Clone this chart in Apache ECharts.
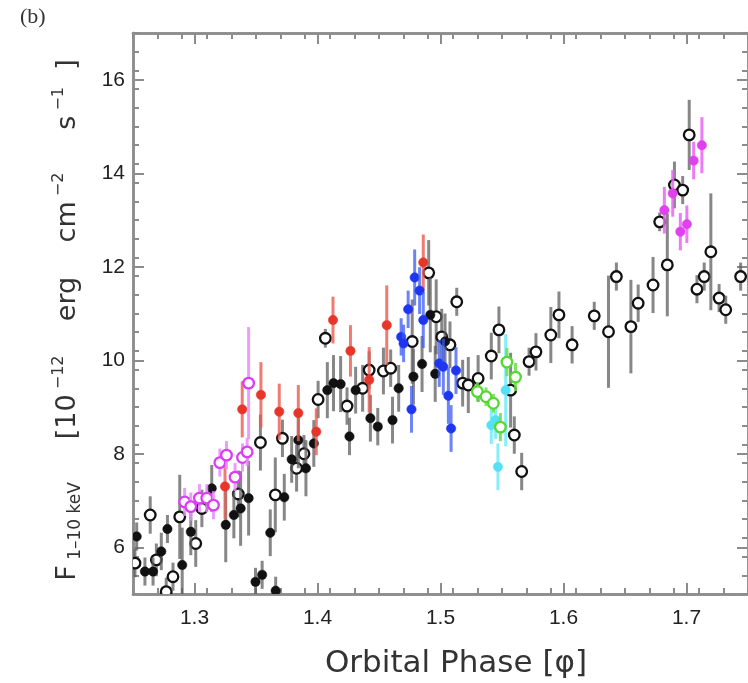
<!DOCTYPE html>
<html>
<head>
<meta charset="utf-8">
<script src="https://cdn.jsdelivr.net/npm/echarts@6/dist/echarts.min.js"></script>
<style>
html,body{margin:0;padding:0;background:#fff;}
#chart{width:748px;height:683px;}
</style>
</head>
<body>
<div id="chart"></div>
<script>
// ---- data: [orbital phase, flux, error] ----
const openBlack = [
 [1.2516,5.66,0.3],[1.264,6.69,0.4],[1.269,5.73,0.35],[1.277,5.05,0.3],[1.2825,5.37,0.3],
 [1.288,6.65,0.9],[1.301,6.08,0.5],[1.306,6.83,0.4],[1.3356,7.14,0.5],[1.3536,8.24,0.6],
 [1.3657,7.12,0.8],[1.3715,8.33,0.4],[1.383,7.69,0.5],[1.389,8.0,0.4],[1.4005,9.16,0.4],
 [1.4064,10.47,0.2],[1.424,9.02,0.4],[1.4367,9.40,0.5],[1.442,9.79,0.4],[1.4536,9.77,0.5],
 [1.4595,9.83,0.4],[1.477,10.40,0.9],[1.4904,11.87,0.7],[1.4965,10.93,0.8],[1.501,10.50,0.6],
 [1.5077,10.33,0.5],[1.5132,11.25,0.3],[1.518,9.51,0.5],[1.5226,9.47,0.6],[1.5306,9.61,0.5],
 [1.5413,10.09,0.5],[1.5475,10.65,0.5],[1.557,9.36,0.8],[1.560,8.40,0.4],[1.566,7.62,0.4],
 [1.572,9.97,0.3],[1.5776,10.18,0.4],[1.5897,10.54,0.6],[1.5963,10.97,0.5],[1.607,10.33,0.4],
 [1.625,10.95,0.3],[1.6366,10.61,1.2],[1.643,11.79,0.3],[1.6548,10.72,1.0],[1.6607,11.22,0.4],
 [1.6728,11.61,0.6],[1.6782,12.96,0.2],[1.6844,12.04,1.1],[1.6902,13.75,0.5],[1.6969,13.64,0.3],
 [1.7022,14.82,0.75],[1.7085,11.52,0.3],[1.7144,11.79,0.3],[1.7198,12.32,1.25],[1.7265,11.33,0.3],
 [1.7319,11.08,0.3],[1.744,11.79,0.3]
];
const filledBlack = [
 [1.253,6.23,0.3],[1.2597,5.48,0.3],[1.2663,5.48,0.3],[1.273,5.91,0.4],[1.278,6.39,0.3],
 [1.290,5.62,0.8],[1.297,6.33,0.5],[1.314,7.26,0.5],[1.3254,6.48,0.8],[1.332,6.69,0.5],
 [1.3375,6.83,0.8],[1.344,7.05,0.8],[1.3496,5.26,0.3],[1.355,5.41,0.3],[1.3616,6.31,0.5],
 [1.366,5.07,0.3],[1.373,7.07,0.5],[1.379,7.88,0.5],[1.3844,8.29,0.6],[1.3906,7.69,0.6],
 [1.397,8.22,0.5],[1.408,9.36,0.6],[1.413,9.51,0.6],[1.4188,9.49,0.6],[1.426,8.37,0.4],
 [1.431,9.36,0.5],[1.443,8.76,0.5],[1.449,8.58,0.4],[1.461,8.72,0.5],[1.466,9.40,0.5],
 [1.478,9.65,0.6],[1.485,9.92,0.6],[1.4917,10.97,0.8],[1.4957,9.71,0.6],[1.5037,10.40,0.6]
];
const redPts = [
 [1.3248,7.30,0.7],[1.3388,8.95,0.6],[1.354,9.26,0.7],[1.3689,8.90,0.6],[1.3844,8.87,0.6],
 [1.399,8.47,0.5],[1.4126,10.86,0.5],[1.4268,10.20,0.55],[1.442,9.58,0.7],[1.4563,10.75,0.85],
 [1.486,12.09,0.6]
];
const magentaOpen = [
 [1.292,6.97,0.3],[1.297,6.87,0.3],[1.304,7.05,0.3],[1.310,7.05,0.3],[1.3154,6.90,0.3],
 [1.3206,7.81,0.3],[1.326,7.97,0.3],[1.333,7.50,0.3],[1.339,7.92,0.3],[1.3428,8.04,0.3],
 [1.344,9.51,1.2]
];
const bluePts = [
 [1.468,10.50,0.4],[1.470,10.36,0.4],[1.4737,11.09,0.4],[1.4764,8.95,0.5],[1.479,11.77,0.6],
 [1.483,11.49,0.5],[1.486,10.86,0.6],[1.499,9.93,0.5],[1.5023,9.86,0.6],[1.5064,9.24,0.6],
 [1.5086,8.54,0.5],[1.5126,9.78,0.5]
];
const cyanPts = [
 [1.5413,8.61,0.4],[1.5448,8.72,0.4],[1.5467,7.72,0.5],[1.553,9.36,1.2]
];
const greenOpen = [
 [1.530,9.33,0.2],[1.537,9.22,0.2],[1.543,9.08,0.2],[1.5487,8.57,0.3],[1.554,9.96,0.3],[1.561,9.64,0.3]
];
const magentaFilled = [
 [1.682,13.21,0.5],[1.6888,13.57,0.5],[1.695,12.75,0.4],[1.7003,12.91,0.4],[1.7058,14.27,0.4],[1.7125,14.60,0.6]
];
// ---- tick labels ----
const xTickLabels = [1.3, 1.4, 1.5, 1.6, 1.7];
const yTickLabels = [6, 8, 10, 12, 14, 16];
const X_MIN = 1.25, X_MAX = 1.75, Y_MIN = 5, Y_MAX = 17;

const xMinor = []; for (let i = 0; i <= 25; i++) xMinor.push(+(X_MIN + i * 0.02).toFixed(3));
const yMinor = []; for (let i = 0; i <= 30; i++) yMinor.push(+(Y_MIN + i * 0.4).toFixed(2));

const AX = '#8c8c8c';
const labelFont = {color:'#222', fontSize:21, fontFamily:'Liberation Sans, Arial, sans-serif'};

function xAx(pos, custom, len, labels){
  return {type:'value', min:X_MIN, max:X_MAX, position:pos, gridIndex:0,
    axisLine:{show:true, onZero:false, lineStyle:{color:AX, width:2.5}},
    axisTick:{show:true, inside:true, length:len, customValues:custom, lineStyle:{color:AX, width:2}},
    axisLabel: labels ? Object.assign({show:true, margin:14, customValues:xTickLabels, formatter:v=>v.toFixed(1)}, labelFont) : {show:false},
    splitLine:{show:false}};
}
function yAx(pos, custom, len, labels){
  return {type:'value', min:Y_MIN, max:Y_MAX, position:pos, gridIndex:0,
    axisLine:{show:true, onZero:false, lineStyle:{color:AX, width:2.5}},
    axisTick:{show:true, inside:true, length:len, customValues:custom, lineStyle:{color:AX, width:2}},
    axisLabel: labels ? Object.assign({show:true, margin:8, customValues:yTickLabels, formatter:v=>String(v)}, labelFont) : {show:false},
    splitLine:{show:false}};
}

function errSeries(data, color, barColor, filled, r){
  return {type:'custom', xAxisIndex:0, yAxisIndex:0, data:data, clip:true,
    encode:{x:0, y:1},
    renderItem:function(params, api){
      const x = api.value(0), y = api.value(1), e = api.value(2);
      const p = api.coord([x, y]);
      const lo = api.coord([x, y - e]);
      const hi = api.coord([x, y + e]);
      return {type:'group', children:[
        {type:'line', shape:{x1:p[0], y1:lo[1], x2:p[0], y2:hi[1]}, style:{stroke:barColor, lineWidth:3}},
        {type:'circle', shape:{cx:p[0], cy:p[1], r:r},
          style: filled ? {fill:color, stroke:color, lineWidth:0.5} : {fill:'#fff', stroke:color, lineWidth:2.3}}
      ]};
    }};
}

const chart = echarts.init(document.getElementById('chart'), null, {renderer:'canvas'});
chart.setOption({
  animation:false,
  backgroundColor:'#fff',
  grid:{left:133, right:-6, top:33, bottom:89, containLabel:false},
  xAxis:[ xAx('bottom', xTickLabels, 11, true), xAx('bottom', xMinor, 6, false),
          xAx('top', xTickLabels, 11, false), xAx('top', xMinor, 6, false) ],
  yAxis:[ yAx('left', yTickLabels, 11, true), yAx('left', yMinor, 6, false),
          yAx('right', yTickLabels, 11, false), yAx('right', yMinor, 6, false) ],
  series:[
    errSeries(openBlack, '#111', 'rgba(95,95,95,0.75)', false, 5.3),
    errSeries(filledBlack, '#111', 'rgba(95,95,95,0.75)', true, 4.7),
    errSeries(redPts, '#e8352a', 'rgba(236,90,80,0.8)', true, 4.7),
    errSeries(magentaOpen, '#dd3cf5', 'rgba(230,140,250,0.85)', false, 5.3),
    errSeries(bluePts, '#1f36f0', 'rgba(60,90,245,0.75)', true, 4.7),
    errSeries(cyanPts, '#55e0f5', 'rgba(110,235,250,0.85)', true, 4.7),
    errSeries(greenOpen, '#55d832', 'rgba(100,225,70,0.85)', false, 5.3),
    errSeries(magentaFilled, '#e040ee', 'rgba(235,100,245,0.85)', true, 4.7)
  ],
  graphic:[
    {type:'text', left:20, top:6, style:{text:'(b)', font:'22px "Liberation Serif", serif', fill:'#333'}},
    {type:'text', x:456, y:664, style:{text:'Orbital Phase [φ]', font:'31px "DejaVu Sans", sans-serif', fill:'#333', align:'center', verticalAlign:'middle'}},
    {type:'text', x:68, y:320, rotation:Math.PI/2,
      style:{
        text:'{m|F}{s| 1–10 keV}{m|     [10}{p| −12}{m|    erg    cm}{p| −2}{m|     s}{p| −1}{m|  ]}',
        align:'center', verticalAlign:'middle', fill:'#333',
        rich:{
          m:{fontSize:27, fontFamily:'DejaVu Sans', fill:'#333', lineHeight:42, verticalAlign:'middle'},
          s:{fontSize:17, fontFamily:'DejaVu Sans', fill:'#333', lineHeight:42, verticalAlign:'bottom', padding:[0,0,5,0]},
          p:{fontSize:16, fontFamily:'DejaVu Sans', fill:'#333', lineHeight:42, verticalAlign:'top', padding:[4,0,0,0]}
        }
      }}
  ]
});
</script>
</body>
</html>
